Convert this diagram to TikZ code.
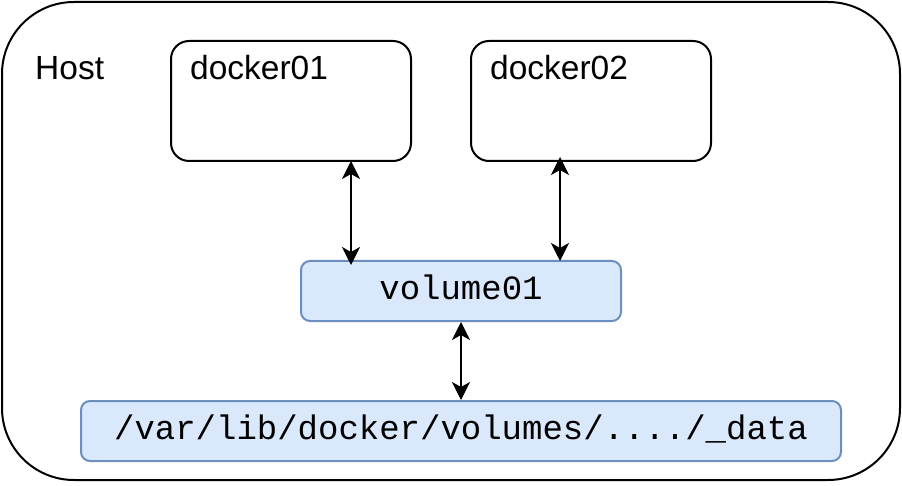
\documentclass[tikz,border=0pt]{standalone}
\usepackage{fontspec}
\setmainfont{Liberation Sans}
\setmonofont{Liberation Mono}
\usetikzlibrary{arrows.meta,calc}
\definecolor{bfill}{HTML}{DAE8FC}
\definecolor{bdraw}{HTML}{6C8EBF}
\begin{document}
\begin{tikzpicture}[x=1pt,y=-1pt,
  hostbox/.style={draw=black,line width=2pt,rounded corners=72pt,minimum width=898pt,minimum height=478pt,inner sep=0pt},
  dockbox/.style={draw=black,line width=2pt,rounded corners=18pt,minimum width=240pt,minimum height=120pt,inner sep=0pt},
  volbox/.style={draw=bdraw,fill=bfill,line width=2pt,rounded corners=9pt,minimum height=60pt,inner sep=0pt},
  sanslbl/.style={font=\fontsize{33.5}{40}\selectfont,inner sep=0pt,anchor=base west},
  monolbl/.style={font=\ttfamily\fontsize{34}{40}\selectfont,inner sep=0pt,anchor=base},
  arr/.style={line width=2pt,{Stealth[length=18pt,width=18pt,inset=5pt]}-{Stealth[length=18pt,width=18pt,inset=5pt]}}]
\useasboundingbox (0,0) rectangle (902,486);
\node[hostbox] (host) at (451,241) {};
\node[dockbox] (d1) at (291,101) {};
\node[dockbox] (d2) at (591,101) {};
\node[volbox,minimum width=320pt] (vol) at (461,291) {};
\node[volbox,minimum width=760pt] (data) at (461,431) {};
\node[sanslbl] (hostlbl) at (35,80) {Host};
\node[sanslbl] (d1lbl) at (190,80) {docker01};
\node[sanslbl] (d2lbl) at (490,80) {docker02};
\node[monolbl] (vollbl) at (461,299) {volume01};
\node[monolbl] (datalbl) at (461,439) {/var/lib/docker/volumes/..../\_data};
\coordinate (a1top) at (351,161);
\coordinate (a1bot) at (351,265);
\coordinate (a2top) at (560,157);
\coordinate (a2bot) at (560,261);
\draw[arr] (a1top) -- (a1bot);
\draw[arr] (a2top) -- (a2bot);
\draw[arr] (vol.south) -- (data.north);
\end{tikzpicture}
\end{document}
